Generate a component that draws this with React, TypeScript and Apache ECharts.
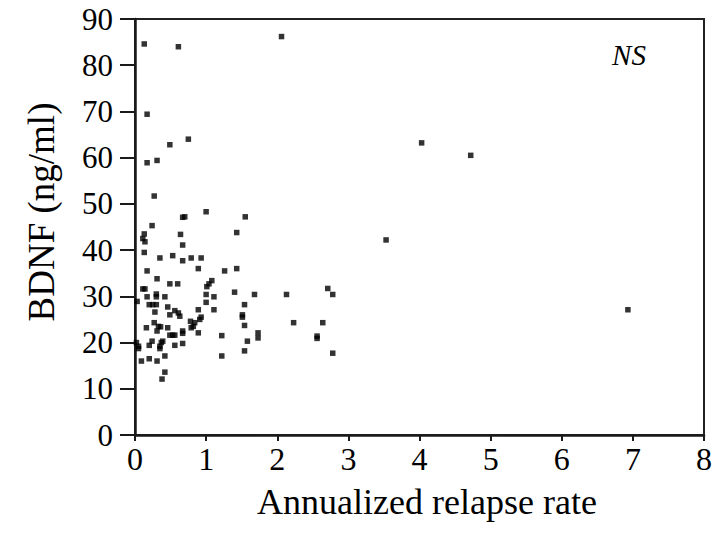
import React, { useEffect, useRef } from "react";
import * as echarts from "echarts";

const relapseRate = [
  0.27, 0.24, 0.13, 0.11, 0.14, 0.13, 0.35, 0.53, 0.67, 0.79, 0.93, 0.89, 0.17, 0.31, 0.11, 0.14,
  0.49, 0.6, 0.3, 0.3, 0.17, 0.42, 0.03, 0.2, 0.25, 0.3, 0.28, 0.46, 0.49, 0.56, 0.61, 0.63,
  0.27, 0.33, 0.31, 0.16, 0.36, 0.46, 0.49, 0.53, 0.56, 0.67, 0.67, 0.78, 0.79, 0.82, 0.84, 0.89,
  0.93, 0.91, 0.89, 0.02, 0.05, 0.05, 0.2, 0.24, 0.35, 0.37, 0.39, 0.35, 0.42, 0.56, 0.67, 0.09,
  0.2, 0.31, 0.42, 0.38, 0.67, 0.7, 0.64, 0.67, 1.0, 1.55, 1.43, 1.43, 1.26, 1.08, 1.04, 1.01,
  1.0, 1.11, 1.0, 1.11, 1.4, 1.68, 1.54, 1.51, 1.51, 1.54, 1.22, 1.22, 1.58, 1.54, 1.73, 1.73,
  2.13, 2.23, 2.64, 2.56, 2.56, 2.71, 2.78, 2.78, 0.13, 0.61, 2.06, 0.17, 0.49, 0.75, 0.17, 0.31,
  4.03, 4.72, 3.53, 6.93,
];

const bdnf = [
  51.7, 45.3, 43.5, 42.5, 41.8, 39.5, 38.3, 38.8, 37.7, 38.3, 38.3, 36, 35.5, 33.8, 31.6, 31.6,
  32.7, 32.7, 30.5, 29.9, 29.9, 29.9, 28.9, 28.2, 28.2, 28.2, 26.6, 27.7, 26, 26.9, 26.4, 25.7,
  24.3, 23.5, 22.5, 23.2, 23.4, 23.2, 21.6, 21.6, 21.6, 22.5, 22.0, 24.6, 23.2, 23.5, 24.3, 27.1,
  25.5, 25, 22.1, 20, 19.2, 18.7, 19.4, 20.3, 19.2, 20, 20.3, 18.7, 17.1, 19.4, 19.8, 16,
  16.5, 16, 13.6, 12.1, 47.1, 47.2, 43.4, 41.1, 48.3, 47.2, 43.8, 36, 35.5, 33.4, 32.7, 32.1,
  30.4, 29.9, 28.7, 27.1, 30.9, 30.4, 28.2, 26, 25.5, 23.7, 21.5, 17.1, 20.3, 18.2, 22.1, 21,
  30.4, 24.3, 24.3, 21.4, 20.9, 31.7, 30.4, 17.7, 84.6, 84, 86.2, 69.4, 62.8, 64, 58.9, 59.4,
  63.2, 60.5, 42.2, 27.1,
];

const xTitle = "Annualized relapse rate";
const yTitle = "BDNF (ng/ml)";
const note = "NS";

const FONT = "Liberation Serif";

export default function App() {
  const ref = useRef<HTMLDivElement>(null);
  useEffect(() => {
    if (!ref.current) return;
    const chart = echarts.init(ref.current, undefined, { renderer: "svg" });
    const points = relapseRate.map((x, i) => [x, bdnf[i]]);
    chart.setOption({
      animation: false,
      backgroundColor: "#ffffff",
      textStyle: { fontFamily: FONT },
      grid: { left: 135, right: 7, top: 19, bottom: 103, show: true, borderColor: "#222", borderWidth: 2, backgroundColor: "transparent" },
      xAxis: {
        type: "value",
        min: 0,
        max: 8,
        interval: 1,
        axisLine: { show: true, onZero: false, lineStyle: { color: "#1a1a1a", width: 2.5 } },
        axisTick: { show: true, inside: false, length: 6, lineStyle: { color: "#1a1a1a", width: 2 } },
        axisLabel: { margin: 8, fontFamily: FONT, fontSize: 32, color: "#000" },
        splitLine: { show: false },
      },
      yAxis: {
        type: "value",
        min: 0,
        max: 90,
        interval: 10,
        axisLine: { show: true, onZero: false, lineStyle: { color: "#1a1a1a", width: 2.5 } },
        axisTick: { show: true, inside: false, length: 15, lineStyle: { color: "#1a1a1a", width: 2 } },
        axisLabel: { margin: 22, fontFamily: FONT, fontSize: 31, color: "#000" },
        splitLine: { show: false },
      },
      graphic: [
        {
          type: "text",
          x: 427,
          y: 502,
          style: { text: xTitle, fontFamily: FONT, fontSize: 36, fill: "#000", textAlign: "center", textVerticalAlign: "middle" },
        },
        {
          type: "text",
          x: 41,
          y: 212,
          rotation: Math.PI / 2,
          style: { text: yTitle, fontFamily: FONT, fontSize: 37, fill: "#000", textAlign: "center", textVerticalAlign: "middle" },
        },
        {
          type: "text",
          x: 629,
          y: 55,
          style: { text: note, fontFamily: FONT, fontSize: 29, fontStyle: "italic", fill: "#000", textAlign: "center", textVerticalAlign: "middle" },
        },
      ],
      series: [
        {
          type: "scatter",
          data: points,
          symbol: "rect",
          symbolSize: 5.5,
          itemStyle: { color: "#000" },
        },
      ],
    });
    return () => chart.dispose();
  }, []);
  return (
    <div
      ref={ref}
      style={{ position: "fixed", left: 0, top: 0, width: 715, height: 538, background: "#fff" }}
    />
  );
}
